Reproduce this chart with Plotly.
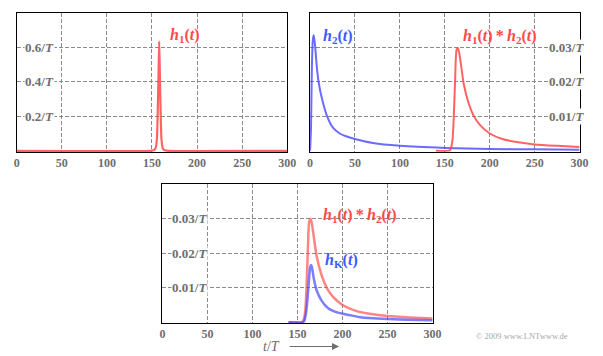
import plotly.graph_objects as go

# ---------------- data ----------------
t_h1 = [0, 148, 152, 154, 155.5, 156.5, 157.3, 158, 158.7, 159.5, 160.5, 162, 164, 168, 300]
h1_vals = [0, 0, 0.003, 0.015, 0.07, 0.25, 0.46, 0.635, 0.46, 0.25, 0.07, 0.015, 0.003, 0, 0]

t_h2 = [0, 1, 2, 3, 4, 5, 5.8, 7.3, 9.5, 13, 19, 25.5, 33, 40, 51, 70, 100, 150, 200, 250, 300]
h2_vals = [0, 0.006, 0.024, 0.032, 0.0337, 0.032, 0.030, 0.025, 0.020, 0.0154, 0.010,
           0.0067, 0.0050, 0.0042, 0.0033, 0.0022, 0.0014, 0.0008, 0.0005, 0.0004, 0.0003]

t_h12 = [140, 155, 156.5, 158.5, 160, 161.5, 163, 164.5, 166, 168, 171, 176.5, 182, 189,
         200, 214, 230, 250, 275, 300]
h12_vals = [0, 0, 0.0005, 0.003, 0.010, 0.021, 0.0293, 0.030, 0.0285, 0.0250, 0.0195,
            0.0138, 0.0102, 0.0075, 0.0050, 0.0034, 0.0025, 0.0018, 0.0014, 0.0011]

t_hK = [140, 156, 157.5, 159.3, 161, 162.5, 164, 165, 166, 168, 171.2, 176.7, 184, 195,
        207.5, 222, 258, 300]
hK_vals = [0, 0, 0.0004, 0.0025, 0.0065, 0.0115, 0.0160, 0.0166, 0.0160, 0.0128, 0.0093,
           0.0063, 0.0041, 0.0028, 0.0021, 0.0014, 0.0009, 0.0006]

x_ticks = [0, 50, 100, 150, 200, 250, 300]
y1_ticks = [0.2, 0.4, 0.6]
y1_labels = ["0.2", "0.4", "0.6"]
y2_ticks = [0.01, 0.02, 0.03]
y2_labels = ["0.01", "0.02", "0.03"]

# ---------------- styling ----------------
W, H = 603, 356
RED = "rgba(255,70,70,0.85)"
BLUE = "rgba(70,70,255,0.8)"
RED_TXT = "#ff4a4a"
BLUE_TXT = "#3a5cff"
GREY = "#6e6e6e"
SERIF = "Liberation Serif, Times New Roman, serif"


def px(x):
    return x / W


def py(y):
    return 1 - y / H


fig = go.Figure()

fig.add_trace(go.Scatter(x=t_h1, y=h1_vals, mode="lines", line=dict(color=RED, width=2.2, shape="spline", smoothing=0.5),
                         xaxis="x", yaxis="y", showlegend=False))
fig.add_trace(go.Scatter(x=t_h2, y=h2_vals, mode="lines", line=dict(color=BLUE, width=2, shape="spline", smoothing=0.6),
                         xaxis="x2", yaxis="y2", showlegend=False))
fig.add_trace(go.Scatter(x=t_h12, y=h12_vals, mode="lines", line=dict(color=RED, width=2, shape="spline", smoothing=0.6),
                         xaxis="x2", yaxis="y2", showlegend=False))
fig.add_trace(go.Scatter(x=t_h12, y=h12_vals, mode="lines", line=dict(color="rgba(255,80,80,0.7)", width=2.5, shape="spline", smoothing=0.6),
                         xaxis="x3", yaxis="y3", showlegend=False))
fig.add_trace(go.Scatter(x=t_hK, y=hK_vals, mode="lines", line=dict(color="rgba(70,70,255,0.7)", width=2.5, shape="spline", smoothing=0.6),
                         xaxis="x3", yaxis="y3", showlegend=False))

xax = dict(range=[0, 300], tickvals=x_ticks, ticktext=[str(v) for v in x_ticks], showgrid=True,
           gridcolor="#8a8a8a", griddash="4px,2px", gridwidth=1, showline=True, mirror=True,
           linecolor="black", linewidth=1, zeroline=False, ticks="", layer="below traces",
           tickfont=dict(family=SERIF, size=12, color=GREY, weight="bold"), fixedrange=True)
yax = dict(showgrid=True, gridcolor="#8a8a8a", griddash="4px,2px", gridwidth=1, showline=True,
           mirror=True, linecolor="black", linewidth=1, zeroline=False, showticklabels=False,
           ticks="", layer="below traces", fixedrange=True)

fig.update_layout(
    width=W, height=H, margin=dict(l=0, r=0, t=0, b=0),
    paper_bgcolor="white", plot_bgcolor="white",
    xaxis=dict(xax, domain=[px(14), px(290)], anchor="y"),
    yaxis=dict(yax, domain=[py(152), py(13)], range=[-0.007, 0.8], tickvals=y1_ticks, anchor="x"),
    xaxis2=dict(xax, domain=[px(313.3), px(588.3)], anchor="y2"),
    yaxis2=dict(yax, domain=[py(151.7), py(13.3)], range=[-0.0003, 0.04], tickvals=y2_ticks, anchor="x2"),
    xaxis3=dict(xax, domain=[px(162.7), px(438.3)], anchor="y3"),
    yaxis3=dict(yax, domain=[py(323), py(184.3)], range=[-0.0002, 0.04], tickvals=y2_ticks, anchor="x3"),
)

ann = []
# y tick labels inside the panels
for v, lab in zip(y1_ticks, y1_labels):
    ann.append(dict(x=25, y=v, xref="x", yref="y", text=f"<b>{lab}/<i>T</i></b>", showarrow=False,
                    font=dict(family=SERIF, size=13, color=GREY), bgcolor="white", borderpad=0))
for v, lab in zip(y2_ticks, y2_labels):
    ann.append(dict(x=285.5, y=v, xref="x2", yref="y2", text=f"<b>{lab}/<i>T</i></b>", showarrow=False,
                    font=dict(family=SERIF, size=13, color=GREY), bgcolor="white", borderpad=0))
    ann.append(dict(x=29.5, y=v, xref="x3", yref="y3", text=f"<b>{lab}/<i>T</i></b>", showarrow=False,
                    font=dict(family=SERIF, size=13, color=GREY), bgcolor="white", borderpad=0))

# curve labels
lab_font = dict(family=SERIF, size=16)
conv = "<b><i>h</i><sub>1</sub>(<i>t</i>)\u2009*\u2009<i>h</i><sub>2</sub>(<i>t</i>)</b>"
ann.append(dict(x=px(168), y=py(35.5), xref="paper", yref="paper", xanchor="left", yanchor="middle",
                text="<b><i>h</i><sub>1</sub>(<i>t</i>)</b>", showarrow=False, font=dict(lab_font, color=RED_TXT)))
ann.append(dict(x=px(324.7), y=py(36.7), xref="paper", yref="paper", xanchor="left", yanchor="middle",
                text="<b><i>h</i><sub>2</sub>(<i>t</i>)</b>", showarrow=False, font=dict(lab_font, color=BLUE_TXT)))
ann.append(dict(x=px(467), y=py(37), xref="paper", yref="paper", xanchor="left", yanchor="middle",
                text=conv, showarrow=False, font=dict(lab_font, color=RED_TXT)))
ann.append(dict(x=px(324), y=py(215.5), xref="paper", yref="paper", xanchor="left", yanchor="middle",
                text=conv, showarrow=False, font=dict(lab_font, color=RED_TXT)))
ann.append(dict(x=px(326), y=py(260.7), xref="paper", yref="paper", xanchor="left", yanchor="middle",
                text="<b><i>h</i><sub>K</sub>(<i>t</i>)</b>", showarrow=False, font=dict(lab_font, color=BLUE_TXT)))

# axis title with arrow
ann.append(dict(x=px(274), y=py(346.5), xref="paper", yref="paper", xanchor="center", yanchor="middle",
                text="<i>t</i>/<i>T</i>", showarrow=False, font=dict(family=SERIF, size=14, color=GREY)))
ann.append(dict(x=px(343), y=py(346.5), xref="paper", yref="paper", ax=-51, ay=0, axref="pixel", ayref="pixel",
                text="", showarrow=True, arrowhead=2, arrowsize=1.2, arrowwidth=1.2, arrowcolor=GREY))

# copyright
ann.append(dict(x=px(579), y=py(336), xref="paper", yref="paper", xanchor="right", yanchor="middle",
                text="© 2009 www.LNTwww.de", showarrow=False, font=dict(family=SERIF, size=8.5, color="#a8a8a8")))

fig.update_layout(annotations=ann)
fig.write_html("out.html", config={"displayModeBar": False},
               post_script="document.body.style.margin='0';document.body.style.padding='0';")
